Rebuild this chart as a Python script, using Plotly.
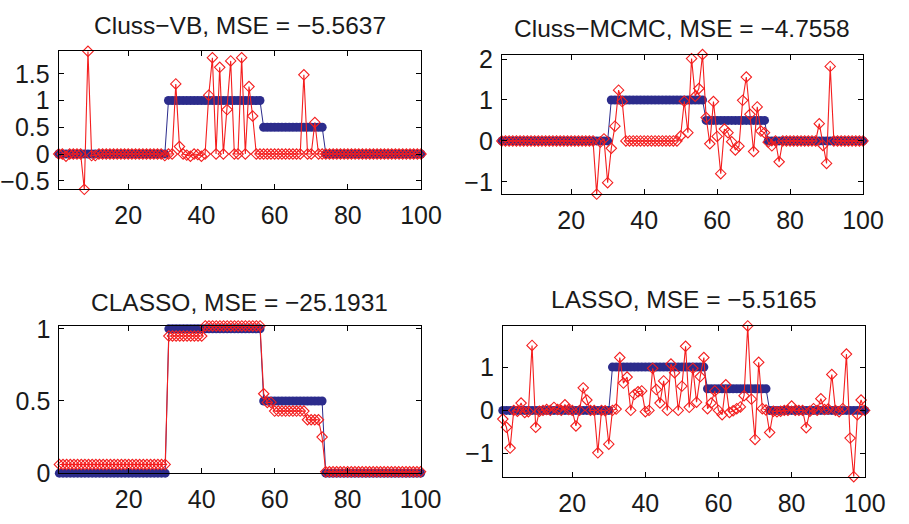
import plotly.graph_objects as go

# sample index
idx = list(range(1, 101))

# true piecewise-constant coefficients
truth = [
    0, 0, 0, 0, 0, 0, 0, 0, 0, 0,
    0, 0, 0, 0, 0, 0, 0, 0, 0, 0,
    0, 0, 0, 0, 0, 0, 0, 0, 0, 0,
    1, 1, 1, 1, 1, 1, 1, 1, 1, 1,
    1, 1, 1, 1, 1, 1, 1, 1, 1, 1,
    1, 1, 1, 1, 1, 1, 0.5, 0.5, 0.5, 0.5,
    0.5, 0.5, 0.5, 0.5, 0.5, 0.5, 0.5, 0.5, 0.5, 0.5,
    0.5, 0.5, 0.5, 0, 0, 0, 0, 0, 0, 0,
    0, 0, 0, 0, 0, 0, 0, 0, 0, 0,
    0, 0, 0, 0, 0, 0, 0, 0, 0, 0,
]

# estimates
est_vb = [
    0.0, 0.0, -0.04, 0.0, 0.0, 0.0, 0.0, -0.66, 1.92, -0.03,
    -0.03, 0.0, 0.0, 0.0, 0.0, 0.0, 0.0, 0.0, 0.0, 0.0,
    0.0, 0.0, 0.0, 0.0, 0.0, 0.0, 0.0, 0.0, 0.0, -0.03,
    0.0, 0.0, 1.31, 0.14, 0.0, -0.02, -0.04, 0.0, -0.01, -0.04,
    0.0, 1.10, 1.80, 0.0, 1.62, 0.0, 0.83, 1.74, 0.0, 0.0,
    1.80, 0.0, 1.26, 0.71, 0.0, 0.0, 0.0, 0.0, 0.0, 0.0,
    0.0, 0.0, 0.0, 0.0, 0.0, 0.0, 0.0, 1.48, 0.0, 0.0,
    0.59, 0.0, 0.0, 0.0, 0.0, 0.0, 0.0, 0.0, 0.0, 0.0,
    0.0, 0.0, 0.0, 0.0, 0.0, 0.0, 0.0, 0.0, 0.0, 0.0,
    0.0, 0.0, 0.0, 0.0, 0.0, 0.0, 0.0, 0.0, 0.0, 0.0,
]

est_mcmc = [
    0.0, 0.0, 0.0, 0.0, 0.0, 0.0, 0.0, 0.0, 0.0, 0.0,
    0.0, 0.0, 0.0, 0.0, 0.0, 0.0, 0.0, 0.0, 0.0, 0.0,
    0.0, 0.0, 0.0, 0.0, 0.0, 0.0, -1.30, -0.03, 0.05, -1.02,
    -0.18, 0.36, 1.24, 0.96, 0.0, 0.0, 0.0, 0.0, 0.0, 0.0,
    0.0, 0.0, 0.0, 0.0, 0.0, 0.0, 0.0, 0.0, 0.0, 0.12,
    0.97, 0.20, 2.01, 1.09, 1.28, 2.11, 0.57, -0.07, 0.96, 0.11,
    -0.80, 0.29, 0.20, -0.02, -0.22, -0.13, 0.99, 1.56, 0.65, -0.26,
    0.83, 0.24, 0.20, -0.03, -0.12, 0.0, -0.51, 0.0, 0.0, 0.0,
    0.0, 0.0, 0.0, 0.0, 0.0, 0.0, 0.0, 0.42, -0.11, -0.55,
    1.82, 0.0, 0.0, 0.0, 0.0, 0.0, 0.0, 0.0, 0.0, 0.0,
]

est_classo = [
    0.06, 0.06, 0.06, 0.06, 0.06, 0.06, 0.06, 0.06, 0.06, 0.06,
    0.06, 0.06, 0.06, 0.06, 0.06, 0.06, 0.06, 0.06, 0.06, 0.06,
    0.06, 0.06, 0.06, 0.06, 0.06, 0.06, 0.06, 0.06, 0.06, 0.06,
    0.95, 0.95, 0.95, 0.95, 0.95, 0.95, 0.95, 0.95, 0.95, 0.95,
    1.02, 1.02, 1.02, 1.02, 1.02, 1.02, 1.02, 1.02, 1.02, 1.02,
    1.02, 1.02, 1.02, 1.02, 1.02, 1.02, 0.55, 0.49, 0.49, 0.43,
    0.43, 0.43, 0.43, 0.43, 0.43, 0.43, 0.43, 0.43, 0.37, 0.37,
    0.37, 0.37, 0.25, 0.01, 0.01, 0.01, 0.01, 0.01, 0.01, 0.01,
    0.01, 0.01, 0.01, 0.01, 0.01, 0.01, 0.01, 0.01, 0.01, 0.01,
    0.01, 0.01, 0.01, 0.01, 0.01, 0.01, 0.01, 0.01, 0.01, 0.01,
]

est_lasso = [
    -0.20, -0.39, -0.87, 0.0, -0.02, 0.17, -0.05, -0.03, 1.50, -0.39,
    -0.02, 0.0, 0.02, 0.0, 0.07, 0.02, 0.0, 0.13, 0.02, 0.0,
    -0.36, 0.0, 0.52, 0.24, 0.0, 0.0, -0.98, 0.0, -0.01, -0.78,
    0.0, 0.03, 1.22, 0.63, 0.77, 0.0, 0.37, 0.43, 0.45, -0.03,
    0.0, 0.97, 0.48, 0.17, 0.68, 0.0, 1.07, 0.87, 0.0, 0.56,
    1.48, 0.07, 0.97, 0.19, 0.78, 1.22, 0.04, 0.17, 0.45, 0.0,
    -0.10, 0.59, -0.05, -0.01, 0.04, 0.08, 0.34, 1.95, 0.26, -0.67,
    1.11, 0.04, 0.01, -0.51, -0.02, -0.03, -0.02, 0.0, 0.0, 0.10,
    0.0, 0.0, 0.0, -0.40, -0.02, 0.04, 0.0, 0.27, 0.02, 0.03,
    0.83, 0.0, -0.03, 0.04, 1.30, -0.64, -1.53, -0.10, 0.24, 0.0,
]

titles = [
    "Cluss\u2212VB, MSE = \u22125.5637",
    "Cluss\u2212MCMC, MSE = \u22124.7558",
    "CLASSO, MSE = \u221225.1931",
    "LASSO, MSE = \u22125.5165",
]
estimates = [est_vb, est_mcmc, est_classo, est_lasso]
y_ticks = [
    [-0.5, 0, 0.5, 1, 1.5],
    [-1, 0, 1, 2],
    [0, 0.5, 1],
    [-1, 0, 1],
]
x_ticks = [20, 40, 60, 80, 100]

W, H = 909, 524
# axes boxes in pixels: left, right, top, bottom
boxes = [
    (54.3, 427.7, 42.3, 187.3),
    (511.0, 883.3, 45.7, 192.3),
    (55.0, 427.3, 330.7, 485.3),
    (512.0, 885.0, 330.7, 489.0),
]
title_y = [15, 18, 306, 303]

BLUE = "#2c2c8c"
RED = "#f41e1e"
FONT = "Liberation Sans, Arial, Helvetica, sans-serif"
TEXT = "#1a1a1a"

fig = go.Figure()
layout = dict(
    width=W, height=H,
    margin=dict(l=0, r=0, t=0, b=0),
    paper_bgcolor="white", plot_bgcolor="white",
    showlegend=False,
    font=dict(family=FONT, size=25, color=TEXT),
    annotations=[],
)

for i, (est, title) in enumerate(zip(estimates, titles)):
    n = "" if i == 0 else str(i + 1)
    xa, ya = "x" + n, "y" + n
    fig.add_trace(go.Scatter(
        x=idx, y=truth, xaxis=xa, yaxis=ya, mode="lines+markers",
        line=dict(color=BLUE, width=1),
        marker=dict(symbol="circle", size=9, color=BLUE),
        cliponaxis=False,
    ))
    fig.add_trace(go.Scatter(
        x=idx, y=est, xaxis=xa, yaxis=ya, mode="lines+markers",
        line=dict(color=RED, width=1.1),
        marker=dict(symbol="diamond-open", size=8, color=RED,
                    line=dict(width=1.1, color=RED)),
        cliponaxis=False,
    ))
    l, r, t, b = boxes[i]
    lo = min(min(est), min(truth))
    hi = max(max(est), max(truth))
    common = dict(
        showline=True, linecolor="black", linewidth=1, mirror="ticks",
        ticks="inside", ticklen=5, tickcolor="black", tickwidth=1,
        showgrid=False, zeroline=False,
        tickfont=dict(family=FONT, size=25, color=TEXT),
    )
    layout["xaxis" + n] = dict(
        domain=[l / W, r / W], range=[1, 100], anchor=ya,
        tickmode="array", tickvals=x_ticks,
        ticklabelstandoff=4, **common,
    )
    layout["yaxis" + n] = dict(
        domain=[1 - b / H, 1 - t / H], range=[lo, hi], anchor=xa,
        tickmode="array", tickvals=y_ticks[i],
        ticklabelstandoff=3, **common,
    )
    layout["annotations"].append(dict(
        text=title, xref="paper", yref="paper",
        x=(l + r) / 2 / W, y=1 - title_y[i] / H,
        xanchor="center", yanchor="middle", showarrow=False,
        font=dict(family=FONT, size=24.5, color=TEXT),
    ))

fig.update_layout(**layout)
fig.write_html("out.html")
